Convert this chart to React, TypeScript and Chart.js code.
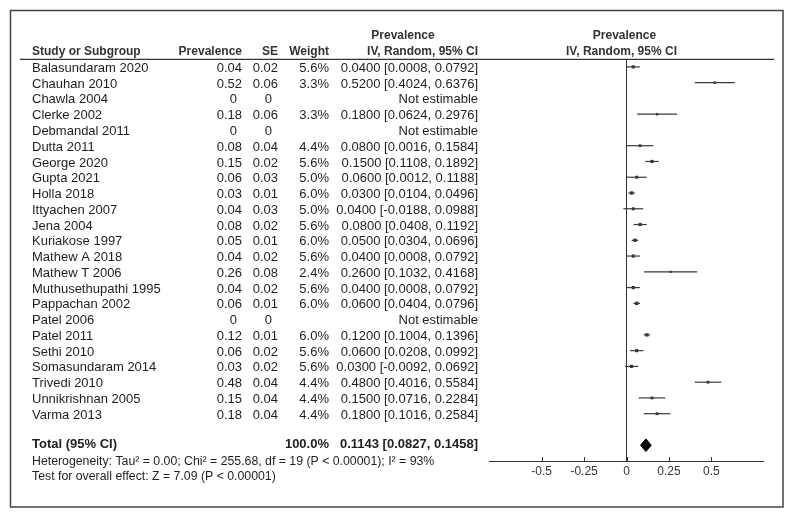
import React, { useEffect, useRef } from 'react';
import { Chart, registerables } from 'chart.js';

Chart.register(...registerables);

const studies = [
  'Balasundaram 2020', 'Chauhan 2010', 'Chawla 2004', 'Clerke 2002', 'Debmandal 2011',
  'Dutta 2011', 'George 2020', 'Gupta 2021', 'Holla 2018', 'Ittyachen 2007', 'Jena 2004',
  'Kuriakose 1997', 'Mathew A 2018', 'Mathew T 2006', 'Muthusethupathi 1995', 'Pappachan 2002',
  'Patel 2006', 'Patel 2011', 'Sethi 2010', 'Somasundaram 2014', 'Trivedi 2010',
  'Unnikrishnan 2005', 'Varma 2013',
];
const prevalence = [0.04, 0.52, 0, 0.18, 0, 0.08, 0.15, 0.06, 0.03, 0.04, 0.08, 0.05, 0.04, 0.26, 0.04, 0.06, 0, 0.12, 0.06, 0.03, 0.48, 0.15, 0.18];
const se = [0.02, 0.06, 0, 0.06, 0, 0.04, 0.02, 0.03, 0.01, 0.03, 0.02, 0.01, 0.02, 0.08, 0.02, 0.01, 0, 0.01, 0.02, 0.02, 0.04, 0.04, 0.04];
const weight: (number | null)[] = [5.6, 3.3, null, 3.3, null, 4.4, 5.6, 5.0, 6.0, 5.0, 5.6, 6.0, 5.6, 2.4, 5.6, 6.0, null, 6.0, 5.6, 5.6, 4.4, 4.4, 4.4];
const ciLow: (number | null)[] = [0.0008, 0.4024, null, 0.0624, null, 0.0016, 0.1108, 0.0012, 0.0104, -0.0188, 0.0408, 0.0304, 0.0008, 0.1032, 0.0008, 0.0404, null, 0.1004, 0.0208, -0.0092, 0.4016, 0.0716, 0.1016];
const ciHigh: (number | null)[] = [0.0792, 0.6376, null, 0.2976, null, 0.1584, 0.1892, 0.1188, 0.0496, 0.0988, 0.1192, 0.0696, 0.0792, 0.4168, 0.0792, 0.0796, null, 0.1396, 0.0992, 0.0692, 0.5584, 0.2284, 0.2584];

const totalLabel = 'Total (95% CI)';
const totalWeight = 100.0;
const totalEst = 0.1143;
const totalLow = 0.0827;
const totalHigh = 0.1458;

const heterogeneityText = 'Heterogeneity: Tau\u00B2 = 0.00; Chi\u00B2 = 255.68, df = 19 (P < 0.00001); I\u00B2 = 93%';
const overallText = 'Test for overall effect: Z = 7.09 (P < 0.00001)';

const xTicks = [-0.5, -0.25, 0, 0.25, 0.5];
const xTickLabels = ['-0.5', '-0.25', '0', '0.25', '0.5'];

const headerTop = 'Prevalence';
const headerCI = 'IV, Random, 95% CI';
const colHeaders = ['Study or Subgroup', 'Prevalence', 'SE', 'Weight'];

const TOTAL_ROW = 24;

const FONT = '"Liberation Sans", Arial, sans-serif';

export default function App() {
  const ref = useRef<HTMLCanvasElement>(null);

  useEffect(() => {
    document.body.style.margin = '0';
    const canvas = ref.current;
    if (!canvas) return;

    const datasets: any[] = [];
    // zero line
    datasets.push({
      data: [{ x: 0, y: -0.5 }, { x: 0, y: 25 }],
      showLine: true, borderColor: '#333', borderWidth: 1, pointRadius: 0, fill: false,
    });
    // CI lines
    studies.forEach((_, i) => {
      if (ciLow[i] == null || ciHigh[i] == null) return;
      datasets.push({
        data: [{ x: ciLow[i], y: i }, { x: ciHigh[i], y: i }],
        showLine: true, borderColor: '#3a3a3a', borderWidth: 1.2, pointRadius: 0, fill: false,
      });
    });
    // markers
    const markerData: any[] = [];
    const markerW: number[] = [];
    studies.forEach((_, i) => {
      if (weight[i] == null) return;
      markerData.push({ x: prevalence[i], y: i });
      markerW.push(weight[i] as number);
    });
    datasets.push({
      data: markerData,
      pointStyle: 'rect',
      pointRadius: (ctx: any) => 1.0 + 0.22 * (markerW[ctx.dataIndex] ?? 5),
      backgroundColor: '#333', borderColor: '#333', borderWidth: 0,
    });
    // diamond
    datasets.push({
      data: [
        { x: totalLow, y: TOTAL_ROW },
        { x: totalEst, y: TOTAL_ROW - 0.4 },
        { x: totalHigh, y: TOTAL_ROW },
        { x: totalEst, y: TOTAL_ROW + 0.4 },
        { x: totalLow, y: TOTAL_ROW },
      ],
      showLine: true, fill: 'shape', backgroundColor: '#000', borderColor: '#000',
      borderWidth: 1, pointRadius: 0, tension: 0,
    });

    const textPlugin = {
      id: 'forestText',
      afterDraw(chart: any) {
        const ctx = chart.ctx as CanvasRenderingContext2D;
        const xs = chart.scales.x;
        const ys = chart.scales.y;
        const area = chart.chartArea;
        ctx.save();
        // outer box
        ctx.strokeStyle = '#444';
        ctx.lineWidth = 1.5;
        ctx.strokeRect(10.5, 10.5, 772.5, 496.5);
        // header line
        ctx.strokeStyle = '#333';
        ctx.lineWidth = 1.2;
        ctx.beginPath();
        ctx.moveTo(20, area.top + 0.3);
        ctx.lineTo(774, area.top + 0.3);
        ctx.stroke();

        // headers
        ctx.fillStyle = '#333';
        ctx.textBaseline = 'middle';
        ctx.font = 'bold 12px ' + FONT;
        const hy1 = 35.5;
        const hy2 = 51.7;
        ctx.textAlign = 'left';
        ctx.fillText(colHeaders[0], 32, hy2);
        ctx.textAlign = 'right';
        ctx.fillText(colHeaders[1], 242, hy2);
        ctx.fillText(colHeaders[2], 278, hy2);
        ctx.fillText(colHeaders[3], 329, hy2);
        ctx.fillText(headerCI, 478, hy2);
        ctx.textAlign = 'center';
        ctx.fillText(headerTop, 403, hy1);
        const plotCenter = xs.getPixelForValue(0) - 2;
        ctx.fillText(headerTop, plotCenter, hy1);
        ctx.fillText(headerCI, plotCenter - 3, hy2);

        // rows
        ctx.fillStyle = '#1e1e1e';
        ctx.font = '13px ' + FONT;
        studies.forEach((s, i) => {
          const y = ys.getPixelForValue(i) + 1.5;
          ctx.textAlign = 'left';
          ctx.fillText(s, 32, y);
          ctx.textAlign = 'right';
          const p = prevalence[i];
          const e = se[i];
          ctx.fillText(p === 0 ? '0' : p.toFixed(2), p === 0 ? 237 : 242, y);
          ctx.fillText(e === 0 ? '0' : e.toFixed(2), e === 0 ? 272 : 278, y);
          const w = weight[i];
          if (w != null) {
            ctx.fillText(w.toFixed(1) + '%', 329, y);
            ctx.fillText(
              p.toFixed(4) + ' [' + (ciLow[i] as number).toFixed(4) + ', ' + (ciHigh[i] as number).toFixed(4) + ']',
              478, y);
          } else {
            ctx.fillText('Not estimable', 478, y);
          }
        });

        // total
        const ty = ys.getPixelForValue(TOTAL_ROW) - 1;
        ctx.font = 'bold 13px ' + FONT;
        ctx.textAlign = 'left';
        ctx.fillText(totalLabel, 32, ty);
        ctx.textAlign = 'right';
        ctx.fillText(totalWeight.toFixed(1) + '%', 329, ty);
        ctx.fillText(totalEst.toFixed(4) + ' [' + totalLow.toFixed(4) + ', ' + totalHigh.toFixed(4) + ']', 478, ty);

        // footers
        ctx.font = '12.3px ' + FONT;
        ctx.textAlign = 'left';
        const axisY = ys.getPixelForValue(25);
        ctx.fillText(heterogeneityText, 32, axisY + 1);
        ctx.fillText(overallText, 32, axisY + 16);

        // x axis
        ctx.strokeStyle = '#333';
        ctx.lineWidth = 1;
        ctx.beginPath();
        ctx.moveTo(area.left, Math.round(axisY) + 0.5);
        ctx.lineTo(area.right, Math.round(axisY) + 0.5);
        xTicks.forEach((t) => {
          const px = Math.round(xs.getPixelForValue(t)) + 0.5;
          ctx.moveTo(px, Math.round(axisY) - 4);
          ctx.lineTo(px, Math.round(axisY) + 0.5);
        });
        ctx.stroke();
        ctx.fillStyle = '#333';
        ctx.font = '12px ' + FONT;
        ctx.textAlign = 'center';
        xTicks.forEach((t, k) => {
          ctx.fillText(xTickLabels[k], xs.getPixelForValue(t), axisY + 11);
        });
        ctx.restore();
      },
    };

    const chart = new Chart(canvas, {
      type: 'scatter',
      data: { datasets },
      options: {
        responsive: false,
        animation: false,
        events: [],
        layout: { padding: { left: 489, right: 30, top: 59, bottom: 57 } },
        scales: {
          x: { type: 'linear', min: -0.81, max: 0.81, display: false },
          y: { type: 'linear', min: -0.5, max: 25, reverse: true, display: false },
        },
        plugins: { legend: { display: false }, tooltip: { enabled: false } },
      },
      plugins: [textPlugin],
    });
    return () => chart.destroy();
  }, []);

  return (
    <div style={{ width: 794, height: 518, background: '#fff' }}>
      <canvas ref={ref} width={794} height={518} style={{ display: 'block' }} />
    </div>
  );
}
